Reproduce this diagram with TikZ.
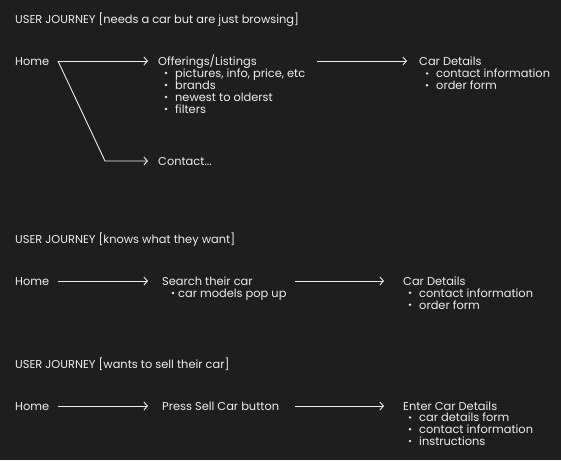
\documentclass[tikz,border=0pt]{standalone}
\usepackage{fontspec}
\setmainfont{Poppins}
\usetikzlibrary{arrows.meta}
\definecolor{bg}{HTML}{1E1E1E}
\definecolor{fg}{HTML}{EEEEEE}
\newcommand\itm[4]{%
  \node[bdot] (#1d) at (#2,#3-4.3) {};
  \node[txt] (#1) at (#2+9,#3) {#4};}
\newcommand\itmb[4]{%
  \node[bdot] (#1d) at (#2,#3-4.3) {};
  \node[txt] (#1) at (#2+5,#3) {#4};}
\begin{document}
\begin{tikzpicture}[x=1pt,y=-1pt,
  txt/.style={anchor=base west,inner sep=0pt,text=fg,font=\fontsize{11.4}{13}\selectfont},
  bdot/.style={circle,fill=fg,inner sep=0pt,minimum size=2.7pt},
  arr/.style={draw=fg,line width=0.9pt,-{Straight Barb[length=3.5pt,width=8pt,line width=0.9pt]}}]
\useasboundingbox (0,0) rectangle (561,460);
\fill[bg] (0,0) rectangle (561,460);
% ---------- section 1 ----------
\node[txt] (t1) at (15,23.3) {USER JOURNEY [needs a car but are just browsing]};
\node[txt] (h1) at (15,65.7) {Home};
\node[txt] (off) at (158,65.7) {Offerings/Listings};
\itm{o1}{166}{77.3}{pictures, info, price, etc}
\itm{o2}{166}{89.3}{brands}
\itm{o3}{166}{101.3}{newest to olderst}
\itm{o4}{166}{113.3}{filters}
\node[txt] (con) at (158,165.7) {Contact...};
\node[txt] (cd1) at (419,65.7) {Car Details};
\itm{c1}{427}{77.7}{contact information}
\itm{c2}{427}{89.5}{order form}
\coordinate (s1) at (58,61);
\coordinate (k1) at (105,161);
\coordinate (s1b) at (317,61);
\draw[arr,shorten >=10pt] (s1) -- (off.west |- s1);
\draw[arr,shorten >=10pt] (s1) -- (k1) -- (con.west |- k1);
\draw[arr,shorten >=12pt] (s1b) -- (cd1.west |- s1b);
% ---------- section 2 ----------
\node[txt] (t2) at (15,243.3) {USER JOURNEY [knows what they want]};
\node[txt] (h2) at (15,285) {Home};
\node[txt] (sr) at (162,285) {Search their car};
\itmb{sr1}{173}{297.3}{car models pop up}
\node[txt] (cd2) at (403,285) {Car Details};
\itm{d1}{410}{297}{contact information}
\itm{d2}{410}{309}{order form}
\coordinate (s2) at (58,281);
\coordinate (s2b) at (295,281);
\draw[arr,shorten >=14pt] (s2) -- (sr.west |- s2);
\draw[arr,shorten >=19pt] (s2b) -- (cd2.west |- s2b);
% ---------- section 3 ----------
\node[txt] (t3) at (15,368.3) {USER JOURNEY [wants to sell their car]};
\node[txt] (h3) at (15,410) {Home};
\node[txt] (ps) at (162,410) {Press Sell Car button};
\node[txt] (ec) at (403,410) {Enter Car Details};
\itm{e1}{410}{421.7}{car details form}
\itm{e2}{410}{433.5}{contact information}
\itm{e3}{410}{445.4}{instructions}
\coordinate (s3) at (58,406);
\coordinate (s3b) at (295,406);
\draw[arr,shorten >=14pt] (s3) -- (ps.west |- s3);
\draw[arr,shorten >=19pt] (s3b) -- (ec.west |- s3b);
\end{tikzpicture}
\end{document}
